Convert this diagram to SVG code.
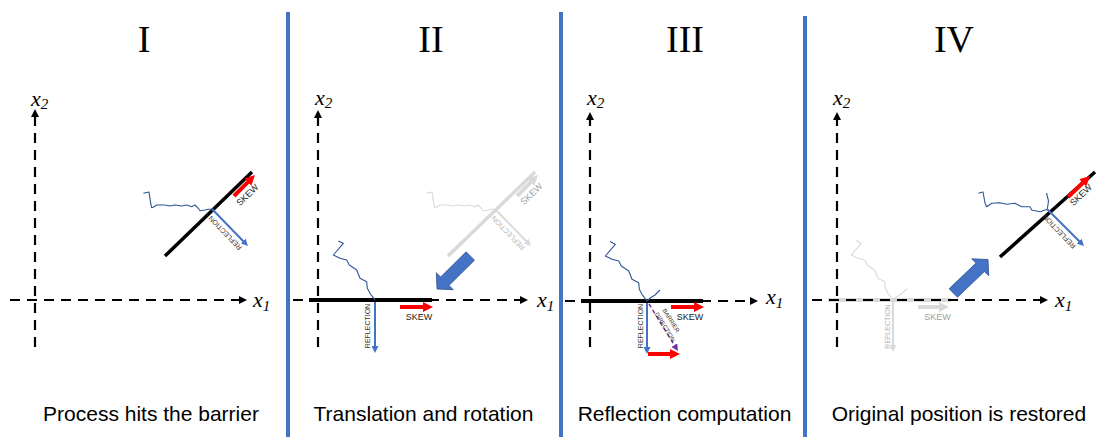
<svg xmlns="http://www.w3.org/2000/svg" width="1098" height="437" viewBox="0 0 1098 437">
<defs>
<style>
.ax{stroke:#000;stroke-width:2.2;stroke-dasharray:10 7;fill:none;marker-end:url(#mk)}
.axl{font-family:"Liberation Serif","Times New Roman",serif;font-style:italic;font-size:22px;fill:#000}
.num{font-family:"Liberation Serif","Times New Roman",serif;font-size:38px;text-anchor:middle;fill:#000}
.cap{font-family:"Liberation Sans",Arial,sans-serif;font-size:21px;text-anchor:middle;fill:#000}
.bar{stroke:#000;stroke-width:3.5;fill:none}
.gbar{stroke:#D9D9D9;stroke-width:3.5;fill:none}
.wave{fill:none;stroke:#2F5597;stroke-width:1.1;stroke-linejoin:round}
.gwave{fill:none;stroke:#D9D9D9;stroke-width:1.1;stroke-linejoin:round}
.refl{stroke:#4472C4;stroke-width:2;fill:none;marker-end:url(#mb)}
.grefl{stroke:#D9D9D9;stroke-width:2;fill:none;marker-end:url(#mg)}
.skew{stroke:#F00;stroke-width:4;fill:none;marker-end:url(#mr)}
.gskew{stroke:#D9D9D9;stroke-width:4;fill:none;marker-end:url(#mgr)}
.bd{stroke:#7030A0;stroke-width:1.5;stroke-dasharray:4 3;fill:none;marker-end:url(#mp)}
.lbl{font-family:"Liberation Sans",Arial,sans-serif;font-size:9px;text-anchor:middle;fill:#1a1a1a}
.sm{font-size:7px;fill:#333}
.xs{font-size:6px;fill:#333}
.g1{fill:#A0A0A0}
.g2{fill:#B5B5B5}
.blk{fill:#4472C4;stroke:#2F528F;stroke-width:0.8}
.div{stroke:#4472C4;stroke-width:4}
</style>
<marker id="mk" markerUnits="userSpaceOnUse" markerWidth="8" markerHeight="8" refX="1" refY="4" orient="auto"><path d="M0,0 L8,4 L0,8 z" fill="#000"/></marker>
<marker id="mb" markerUnits="userSpaceOnUse" markerWidth="7" markerHeight="7" refX="1" refY="3.5" orient="auto"><path d="M0,0 L7,3.5 L0,7 z" fill="#4472C4"/></marker>
<marker id="mg" markerUnits="userSpaceOnUse" markerWidth="7" markerHeight="7" refX="1" refY="3.5" orient="auto"><path d="M0,0 L7,3.5 L0,7 z" fill="#D9D9D9"/></marker>
<marker id="mp" markerUnits="userSpaceOnUse" markerWidth="7" markerHeight="7" refX="1" refY="3.5" orient="auto"><path d="M0,0 L7,3.5 L0,7 z" fill="#7030A0"/></marker>
<marker id="mr" markerUnits="userSpaceOnUse" markerWidth="10" markerHeight="10" refX="1" refY="5" orient="auto"><path d="M0,0 L10,5 L0,10 z" fill="#F00"/></marker>
<marker id="mgr" markerUnits="userSpaceOnUse" markerWidth="10" markerHeight="10" refX="1" refY="5" orient="auto"><path d="M0,0 L10,5 L0,10 z" fill="#D9D9D9"/></marker>
</defs>
<rect width="1098" height="437" fill="#fff"/>

<g id="dividers">
<line class="div" x1="288" y1="12" x2="288" y2="437"/>
<line class="div" x1="561" y1="12" x2="561" y2="437"/>
<line class="div" x1="805" y1="16" x2="805" y2="437"/>
</g>

<g id="panel-1">
<text class="num" x="144" y="52">I</text>
<line class="ax" x1="35" y1="347" x2="35" y2="116"/>
<line class="ax" x1="10" y1="300" x2="240" y2="300"/>
<text class="axl" x="31" y="106">x<tspan font-size="15" dy="3">2</tspan></text>
<text class="axl" x="253" y="307">x<tspan font-size="15" dy="4">1</tspan></text>
<line class="bar" x1="165" y1="256" x2="252" y2="172"/>
<polyline class="wave" points="143.3,193.3 149,192 150.7,203.3 151.7,207.7 154,206.7 156.7,205 165,205 170,206 175,205 181.7,206 186.7,205 191.7,206.7 195,205 198.3,208.3 200,210.7 205,210 208.3,209.3 212.3,209.3"/>
<line class="refl" x1="212" y1="209" x2="243.8" y2="241.7"/>
<line class="skew" x1="234" y1="196" x2="248.6" y2="181.4"/>
<text class="lbl" transform="translate(247.5,195) rotate(-44)" x="0" y="3">SKEW</text>
<text class="lbl sm" transform="translate(225,233) rotate(-134)" x="0" y="2.5">REFLECTION</text>
<text class="cap" x="151" y="421">Process hits the barrier</text>
</g>

<g id="panel-2">
<text class="num" x="431" y="52">II</text>
<line class="gbar" x1="448" y1="256" x2="535" y2="172"/>
<polyline class="gwave" points="426.3,193.3 432,192 433.7,203.3 434.7,207.7 437,206.7 439.7,205 448,205 453,206 458,205 464.7,206 469.7,205 474.7,206.7 478,205 481.3,208.3 483,210.7 488,210 491.3,209.3 495.3,209.3"/>
<line class="grefl" x1="495" y1="209" x2="526.8" y2="241.7"/>
<line class="gskew" x1="517" y1="196" x2="531.6" y2="181.4"/>
<text class="lbl g1" transform="translate(531.5,194) rotate(-44)" x="0" y="3">SKEW</text>
<text class="lbl sm g2" transform="translate(508,233) rotate(-134)" x="0" y="2.5">REFLECTION</text>
<polygon class="blk" points="466.1,251.8 474.5,260.2 449,285.4 453.3,289.7 437,289 436.3,272.7 440.6,277"/>
<line class="ax" x1="318" y1="347" x2="318" y2="117"/>
<line class="ax" x1="293" y1="300" x2="521" y2="300"/>
<text class="axl" x="315" y="105">x<tspan font-size="15" dy="3">2</tspan></text>
<text class="axl" x="537" y="307">x<tspan font-size="15" dy="4">1</tspan></text>
<line class="bar" x1="309" y1="300" x2="432" y2="300" style="stroke-width:4"/>
<polyline class="wave" points="338.3,241 343.3,243.3 333.3,255 340,258.3 346.7,260 349.3,265 356.7,270 360,278.3 366.7,281.7 367.3,288.3 370,293.3 375,300"/>
<line class="refl" x1="375" y1="302" x2="375" y2="347"/>
<line class="skew" x1="400" y1="307" x2="424" y2="307"/>
<text class="lbl" x="419" y="320">SKEW</text>
<text class="lbl sm" transform="translate(367,326) rotate(-90)" x="0" y="2.5">REFLECTION</text>
<text class="cap" x="423.5" y="421">Translation and rotation</text>
</g>

<g id="panel-3">
<text class="num" x="685" y="52">III</text>
<line class="ax" x1="590" y1="347" x2="590" y2="119"/>
<line class="ax" x1="565" y1="301" x2="751" y2="301"/>
<text class="axl" x="587" y="105">x<tspan font-size="15" dy="3">2</tspan></text>
<text class="axl" x="766" y="304">x<tspan font-size="15" dy="4">1</tspan></text>
<line class="bar" x1="581" y1="301" x2="703" y2="301" style="stroke-width:4"/>
<polyline class="wave" points="610,241.5 615.3,244.3 605.3,256 612,259.3 618.7,261 621.3,266 628.7,271 632,279.3 638.7,282.7 639.3,289.3 642,294.3 647,301 651,297.5 655,295 660,290"/>
<line class="refl" x1="647" y1="303" x2="647" y2="348"/>
<line class="bd" x1="649" y1="304" x2="674.8" y2="345.9"/>
<line class="skew" x1="671" y1="307" x2="695" y2="307"/>
<line class="skew" x1="648" y1="354" x2="671" y2="354"/>
<text class="lbl" x="690" y="320">SKEW</text>
<text class="lbl sm" transform="translate(640,326) rotate(-90)" x="0" y="2.5">REFLECTION</text>
<text class="lbl xs" transform="translate(671,320.5) rotate(58)" x="0" y="2">BARRIER</text>
<text class="lbl xs" transform="translate(665,327) rotate(58)" x="0" y="2">DIRECTION</text>
<text class="cap" x="684.5" y="421">Reflection computation</text>
</g>

<g id="panel-4">
<text class="num" x="954" y="52">IV</text>
<line class="gbar" x1="828" y1="300" x2="951" y2="300" style="stroke-width:4"/>
<polyline class="gwave" points="856,240.5 861.3,243.3 851.3,255 858,258.3 864.7,260 867.3,265 874.7,270 878,278.3 884.7,281.7 885.3,288.3 888,293.3 893,300 897,296.5 901,294 907,289"/>
<line class="grefl" x1="893" y1="302" x2="893" y2="346"/>
<line class="gskew" x1="918" y1="307" x2="940" y2="307"/>
<text class="lbl g1" x="937.5" y="320">SKEW</text>
<text class="lbl sm g2" transform="translate(887,326.5) rotate(-90)" x="0" y="2.5">REFLECTION</text>
<line class="ax" x1="837" y1="347" x2="837" y2="119"/>
<line class="ax" x1="812" y1="300" x2="1041" y2="300"/>
<text class="axl" x="833" y="105">x<tspan font-size="15" dy="3">2</tspan></text>
<text class="axl" x="1055" y="307">x<tspan font-size="15" dy="4">1</tspan></text>
<polygon class="blk" points="949.1,288.8 976,263.1 971.7,258.8 988,259.5 988.7,275.8 984.4,271.5 957.5,297.2"/>
<line class="bar" x1="1000" y1="257" x2="1095" y2="172"/>
<polyline class="wave" points="978.3,193.3 983,192 985,203 986.7,206.7 991.7,203.3 1000,202.7 1006.7,204.3 1015,203.3 1021.7,206.7 1030,206.7 1031.7,210 1040,211.7 1045,210 1047.3,209.3 1048.5,201 1046.5,193"/>
<line class="refl" x1="1047" y1="209" x2="1079.8" y2="241.8"/>
<line class="skew" x1="1068" y1="197" x2="1083.5" y2="182.2"/>
<text class="lbl" transform="translate(1081,195) rotate(-44)" x="0" y="3">SKEW</text>
<text class="lbl sm" transform="translate(1059,231.5) rotate(-134)" x="0" y="2.5">REFLECTION</text>
<text class="cap" x="959" y="421">Original position is restored</text>
</g>
</svg>
